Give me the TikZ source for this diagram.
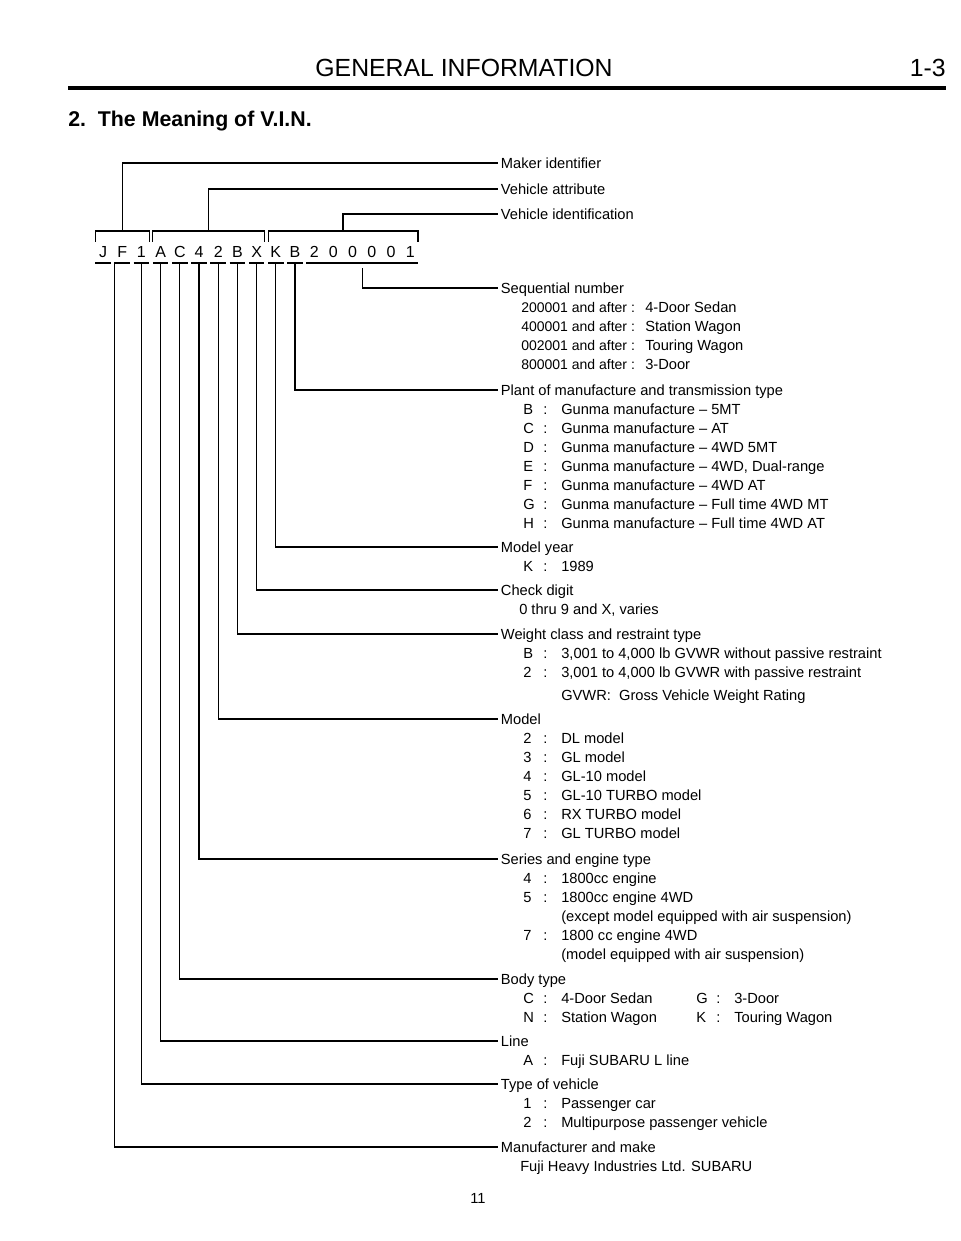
\documentclass[tikz,border=0pt]{standalone}
\usepackage{fontspec}
\setmainfont{Liberation Sans}
\usepackage{tikz}
\usetikzlibrary{positioning,calc}
\newcommand{\kv}[2]{\makebox[15pt][l]{#1}\makebox[13.5pt][l]{:}#2}
\newcommand{\seqrow}[2]{\makebox[93pt][l]{\fontsize{10.5}{13}\selectfont #1 :}#2}

\begin{document}
\begin{tikzpicture}[x=0.75pt, y=-0.75pt,
  every node/.style={font=\fontsize{11}{13}\selectfont, inner sep=0pt},
  lead/.style={line width=0.8pt},
  lab/.style={anchor=west, inner xsep=2pt, text height=7.9pt, text depth=0pt},
  item/.style={anchor=west, text height=7.9pt, text depth=0pt},
  vinch/.style={font=\fontsize{12}{14}\selectfont, minimum width=11.25pt, text height=8.6pt, text depth=0pt}]
  \useasboundingbox (0,0) rectangle (960,1241);
  % page heading
  \node[font=\fontsize{18.6}{20}\selectfont] (head) at (464,68) {GENERAL INFORMATION};
  \node[font=\fontsize{18.6}{20}\selectfont, anchor=east] (page) at (946,68) {1-3};
  \coordinate (rl) at (68,88); \coordinate (rr) at (946,88);
  \draw[line width=2.3pt] (rl) -- (rr);
  \node[font=\fontsize{16}{18}\selectfont\bfseries, anchor=west] (title) at (68,121) {2.~~The Meaning of V.I.N.};

  % the number itself
  \foreach \ch [count=\i] in {J,F,1,A,C,4,2,B,X,K,B,2,0,0,0,0,1}
    \node[vinch] (c\i) at ({103+19.2*(\i-1)},252) {\ch};
  \coordinate (ul) at (0,263); \coordinate (bk) at (0,242); \coordinate (bt) at (0,231);
  \foreach \i in {1,...,11}
    \draw[lead] (c\i.west |- ul) -- (c\i.east |- ul);
  \draw[lead] (c12.west |- ul) -- (c17.east |- ul);
  \draw[lead] (c1.west |- bk) |- (c3.east |- bt) -- (c3.east |- bk);
  \draw[lead] (c4.west |- bk) |- (c9.east |- bt) -- (c9.east |- bk);
  \draw[lead] (c10.west |- bk) |- (c17.east |- bt) -- (c17.east |- bk);

  % upper labels
  \node[lab] (lmaker) at (498,163) {Maker identifier};
  \node[lab] (lattr) at (498,189) {Vehicle attribute};
  \node[lab] (lident) at (498,214) {Vehicle identification};
  \draw[lead] ($(c1.west |- bt)!0.5!(c3.east |- bt)$) |- (lmaker.west);
  \draw[lead] ($(c4.west |- bt)!0.5!(c9.east |- bt)$) |- (lattr.west);
  \draw[lead] ($(c10.west |- bt)!0.5!(c17.east |- bt)$) |- (lident.west);

  % sequential number
  \node[lab] (lseq) at (498,288) {Sequential number};
  \node[item] (s1) at (521,307) {\seqrow{200001 and after}{4-Door Sedan}};
  \node[item] (s2) at (521,326) {\seqrow{400001 and after}{Station Wagon}};
  \node[item] (s3) at (521,345) {\seqrow{002001 and after}{Touring Wagon}};
  \node[item] (s4) at (521,364) {\seqrow{800001 and after}{3-Door}};
  \coordinate (sq) at ($(c12.west |- ul)!0.5!(c17.east |- ul)+(0,5)$);
  \draw[lead] (sq) |- (lseq.west);

  % plant
  \node[lab] (lplant) at (498,390) {Plant of manufacture and transmission type};
  \node[item] (p1) at (523,409) {\kv{B}{Gunma manufacture -- 5MT}};
  \node[item] (p2) at (523,428) {\kv{C}{Gunma manufacture -- AT}};
  \node[item] (p3) at (523,447) {\kv{D}{Gunma manufacture -- 4WD 5MT}};
  \node[item] (p4) at (523,466) {\kv{E}{Gunma manufacture -- 4WD, Dual-range}};
  \node[item] (p5) at (523,485) {\kv{F}{Gunma manufacture -- 4WD AT}};
  \node[item] (p6) at (523,504) {\kv{G}{Gunma manufacture -- Full time 4WD MT}};
  \node[item] (p7) at (523,523) {\kv{H}{Gunma manufacture -- Full time 4WD AT}};
  \draw[lead] (c11 |- ul) |- (lplant.west);

  % model year
  \node[lab] (lyear) at (498,547) {Model year};
  \node[item] (y1) at (523,566) {\kv{K}{1989}};
  \draw[lead] (c10 |- ul) |- (lyear.west);

  % check digit
  \node[lab] (lcheck) at (498,590) {Check digit};
  \node[item] (k1) at (519,609) {0 thru 9 and X, varies};
  \draw[lead] (c9 |- ul) |- (lcheck.west);

  % weight class
  \node[lab] (lweight) at (498,634) {Weight class and restraint type};
  \node[item] (w1) at (523,653) {\kv{B}{3,001 to 4,000 lb GVWR without passive restraint}};
  \node[item] (w2) at (523,672) {\kv{2}{3,001 to 4,000 lb GVWR with passive restraint}};
  \node[item] (w3) at (561,695) {GVWR:~ Gross Vehicle Weight Rating};
  \draw[lead] (c8 |- ul) |- (lweight.west);

  % model
  \node[lab] (lmodel) at (498,719) {Model};
  \node[item] (m1) at (523,738) {\kv{2}{DL model}};
  \node[item] (m2) at (523,757) {\kv{3}{GL model}};
  \node[item] (m3) at (523,776) {\kv{4}{GL-10 model}};
  \node[item] (m4) at (523,795) {\kv{5}{GL-10 TURBO model}};
  \node[item] (m5) at (523,814) {\kv{6}{RX TURBO model}};
  \node[item] (m6) at (523,833) {\kv{7}{GL TURBO model}};
  \draw[lead] (c7 |- ul) |- (lmodel.west);

  % series and engine
  \node[lab] (lseries) at (498,859) {Series and engine type};
  \node[item] (e1) at (523,878) {\kv{4}{1800cc engine}};
  \node[item] (e2) at (523,897) {\kv{5}{1800cc engine 4WD}};
  \node[item] (e3) at (561,916) {(except model equipped with air suspension)};
  \node[item] (e4) at (523,935) {\kv{7}{1800 cc engine 4WD}};
  \node[item] (e5) at (561,954) {(model equipped with air suspension)};
  \draw[lead] (c6 |- ul) |- (lseries.west);

  % body type
  \node[lab] (lbody) at (498,979) {Body type};
  \node[item] (b1) at (523,998) {\kv{C}{4-Door Sedan}};
  \node[item] (b2) at (523,1017) {\kv{N}{Station Wagon}};
  \node[item] (b3) at (696,998) {\kv{G}{3-Door}};
  \node[item] (b4) at (696,1017) {\kv{K}{Touring Wagon}};
  \draw[lead] (c5 |- ul) |- (lbody.west);

  % line
  \node[lab] (lline) at (498,1041) {Line};
  \node[item] (n1) at (523,1060) {\kv{A}{Fuji SUBARU L line}};
  \draw[lead] (c4 |- ul) |- (lline.west);

  % type of vehicle
  \node[lab] (ltype) at (498,1084) {Type of vehicle};
  \node[item] (t1) at (523,1103) {\kv{1}{Passenger car}};
  \node[item] (t2) at (523,1122) {\kv{2}{Multipurpose passenger vehicle}};
  \draw[lead] (c3 |- ul) |- (ltype.west);

  % manufacturer
  \node[lab] (lmake) at (498,1147) {Manufacturer and make};
  \node[item] (f1) at (520,1166) {Fuji Heavy Industries Ltd. SUBARU};
  \draw[lead] (c2.west |- ul) |- (lmake.west);

  \node (pnum) at (478,1198) {11};
\end{tikzpicture}
\end{document}
